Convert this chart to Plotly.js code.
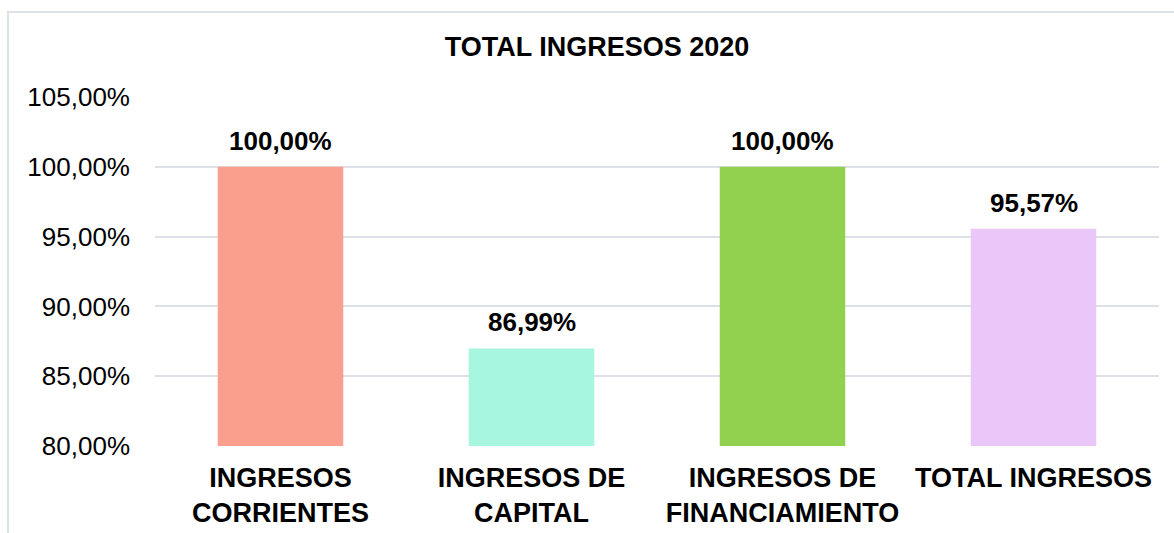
<!DOCTYPE html>
<html><head><meta charset="utf-8">
<script src="https://cdn.plot.ly/plotly-3.0.1.min.js"></script>
<style>html,body{margin:0;padding:0;background:#fff}#chart{width:1174px;height:533px}</style>
</head><body><div id="chart"></div>
<script>
var categories = ["INGRESOS<br>CORRIENTES", "INGRESOS DE<br>CAPITAL", "INGRESOS DE<br>FINANCIAMIENTO", "TOTAL INGRESOS"];
var values = [100.00, 86.99, 100.00, 95.57];
var colors = ["#FA9F8D", "#A7F6DF", "#92D050", "#E9C7F8"];
var tickValues = [80, 85, 90, 95, 100, 105];
var fmt = function(v){ return v.toFixed(2).replace('.', ',') + '%'; };
var labels = values.map(fmt);
var FONT = 'Liberation Sans, Arial, sans-serif';

var trace = {
  type: 'bar', x: categories, y: values,
  marker: {color: colors, line: {width: 0}},
  hoverinfo: 'none'
};

var annotations = categories.map(function(c, i){
  return {x: c, y: values[i], xref: 'x', yref: 'y', text: '<b>' + labels[i] + '</b>',
          showarrow: false, yanchor: 'bottom', yshift: 9,
          font: {family: FONT, size: 26, color: '#000'}};
});

var layout = {
  width: 1174, height: 533,
  margin: {l: 155, r: 15, t: 97, b: 87},
  paper_bgcolor: '#fff', plot_bgcolor: '#fff',
  bargap: 0.5,
  showlegend: false,
  title: {text: '<b>TOTAL INGRESOS 2020</b>', font: {family: FONT, size: 27, color: '#000'},
          x: 597/1174, xanchor: 'center', xref: 'container', y: 1 - 47/533, yanchor: 'middle', yref: 'container'},
  xaxis: {tickfont: {family: FONT, size: 27, color: '#000', weight: 'bold'},
          showline: false, ticks: '', showgrid: false, ticklabelstandoff: 13},
  yaxis: {range: [80, 105], tickvals: tickValues, ticktext: tickValues.map(fmt),
          tickfont: {family: FONT, size: 26, color: '#000'},
          gridcolor: '#DDE1E7', gridwidth: 2, zeroline: false, showline: false, ticks: '',
          ticklabelstandoff: 24},
  annotations: annotations,
  shapes: [{type: 'rect', xref: 'paper', yref: 'paper', x0: -147/1004, x1: 1.1, y0: -0.6, y1: (446-12)/349,
            line: {color: '#DDE2E8', width: 2}, fillcolor: 'rgba(0,0,0,0)', layer: 'below'}]
};
Plotly.newPlot('chart', [trace], layout, {displayModeBar: false, staticPlot: true});
</script></body></html>
